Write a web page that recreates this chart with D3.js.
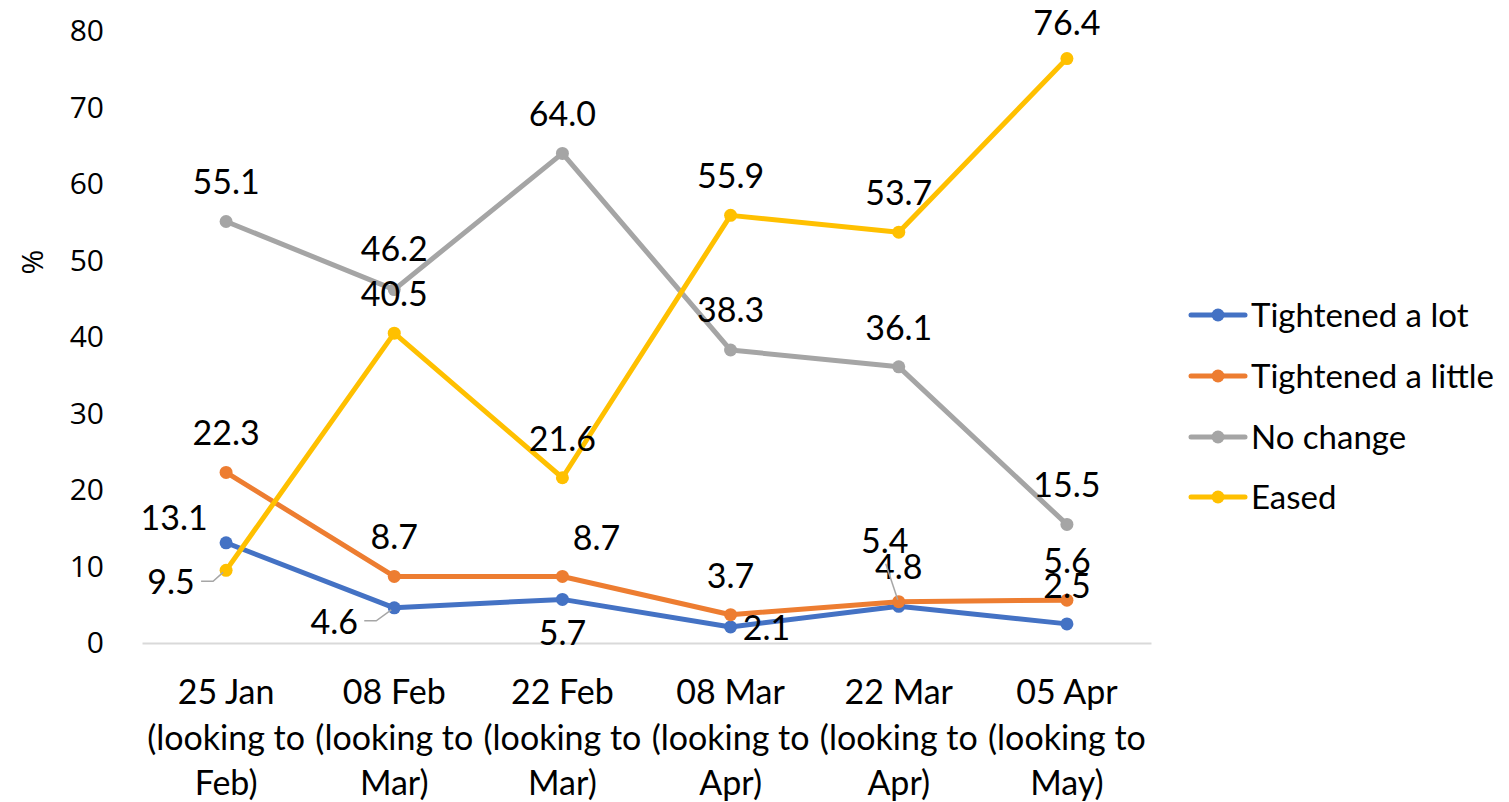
<!DOCTYPE html>
<html>
<head>
<meta charset="utf-8">
<script src="https://cdn.jsdelivr.net/npm/d3@7/dist/d3.min.js"></script>
<style>
  html, body { margin: 0; padding: 0; background: #ffffff; }
  svg { display: block; }
</style>
</head>
<body>
<svg id="chart" width="1509" height="802"></svg>
<script>
// Survey dates (each one looking ahead to the following month)
const dates = ["25 Jan", "08 Feb", "22 Feb", "08 Mar", "22 Mar", "05 Apr"];
const horizons = ["Feb)", "Mar)", "Mar)", "Apr)", "Apr)", "May)"];

// Share of respondents (%) per answer
const seriesNames = ["Tightened a lot", "Tightened a little", "No change", "Eased"];
const tightenedALot = [13.1, 4.6, 5.7, 2.1, 4.8, 2.5];
const tightenedALittle = [22.3, 8.7, 8.7, 3.7, 5.4, 5.6];
const noChange = [55.1, 46.2, 64.0, 38.3, 36.1, 15.5];
const eased = [9.5, 40.5, 21.6, 55.9, 53.7, 76.4];

const yTicks = [0, 10, 20, 30, 40, 50, 60, 70, 80];

const colors = ["#4472C4", "#ED7D31", "#A5A5A5", "#FFC000"];

// Label offsets from each point (dx, dy to label centre); leader = draw a connector
const labelLayout = [
  [{dx: -52, dy: -25}, {dx: -60, dy: 14, leader: true}, {dx: 0, dy: 34}, {dx: 36, dy: 1}, {dx: 0, dy: -39}, {dx: 0, dy: -38}],
  [{dx: 0, dy: -39}, {dx: 0, dy: -39}, {dx: 34, dy: -38}, {dx: 0, dy: -39}, {dx: -14, dy: -61, leader: true}, {dx: 0, dy: -39}],
  [{dx: 0, dy: -39}, {dx: 0, dy: -41}, {dx: 0, dy: -39}, {dx: 0, dy: -40}, {dx: 0, dy: -39}, {dx: 0, dy: -39}],
  [{dx: -55, dy: 12, leader: true}, {dx: 0, dy: -39}, {dx: 0, dy: -39}, {dx: 0, dy: -39}, {dx: 0, dy: -39}, {dx: 0, dy: -36}]
];

const allSeries = [tightenedALot, tightenedALittle, noChange, eased].map((vals, i) => ({
  name: seriesNames[i],
  color: colors[i],
  values: vals.map((v, j) => ({date: dates[j], value: v, layout: labelLayout[i][j]}))
}));

const svg = d3.select("#chart");
const labelFont = "Lato, 'Open Sans', sans-serif";
const axisFont = "'Open Sans', 'Noto Sans', sans-serif";

const plot = {left: 142, right: 1151, top: 31, bottom: 643};

const x = d3.scaleBand().domain(dates).range([plot.left, plot.right]).padding(0);
const cx = d => x(d) + x.bandwidth() / 2;
const y = d3.scaleLinear().domain([0, 80]).range([plot.bottom, plot.top]);

// Y axis labels only (no axis line, no gridlines)
const yAxis = svg.append("g")
  .attr("transform", `translate(${plot.left},0)`)
  .call(d3.axisLeft(y).tickValues(yTicks).tickSize(0).tickPadding(38).tickFormat(d3.format("d")));
yAxis.select(".domain").remove();
yAxis.selectAll("text")
  .attr("font-family", axisFont)
  .attr("font-size", 30)
  .attr("fill", "#000");

svg.append("text")
  .attr("transform", "translate(43,262) rotate(-90)")
  .attr("text-anchor", "middle")
  .attr("font-family", axisFont)
  .attr("font-size", 30)
  .attr("fill", "#000")
  .text("%");

// Category axis
const xAxis = svg.append("g")
  .attr("transform", `translate(0,${plot.bottom})`)
  .call(d3.axisBottom(x).tickSize(0).tickPadding(0));
xAxis.select(".domain").attr("stroke", "#d9d9d9").attr("stroke-width", 2);
xAxis.selectAll(".tick text").each(function(d, i) {
  const t = d3.select(this);
  t.text(null)
    .attr("font-family", labelFont)
    .attr("font-size", 34)
    .attr("fill", "#000")
    .attr("text-anchor", "middle")
    .attr("dy", null)
    .attr("y", 61);
  t.append("tspan").attr("x", 0).attr("y", 61).text(d);
  t.append("tspan").attr("x", 0).attr("y", 107).text("(looking to");
  t.append("tspan").attr("x", 0).attr("y", 152).text(horizons[i]);
});

// Lines and markers
const line = d3.line().x(d => cx(d.date)).y(d => y(d.value));

const seriesG = svg.selectAll("g.series")
  .data(allSeries)
  .enter().append("g")
  .attr("class", "series");

seriesG.append("path")
  .attr("d", s => line(s.values))
  .attr("fill", "none")
  .attr("stroke", s => s.color)
  .attr("stroke-width", 5)
  .attr("stroke-linejoin", "round")
  .attr("stroke-linecap", "round");

seriesG.selectAll("circle")
  .data(s => s.values.map(v => ({...v, color: s.color})))
  .enter().append("circle")
  .attr("cx", d => cx(d.date))
  .attr("cy", d => y(d.value))
  .attr("r", 6.5)
  .attr("fill", d => d.color);

// Data labels with leader lines where a label sits away from its point
const labels = svg.append("g");
allSeries.forEach(s => {
  s.values.forEach(d => {
    const px = cx(d.date), py = y(d.value);
    const lx = px + d.layout.dx, ly = py + d.layout.dy;
    labels.append("text")
      .attr("x", lx)
      .attr("y", ly + 12)
      .attr("text-anchor", "middle")
      .attr("font-family", labelFont)
      .attr("font-size", 34)
      .attr("fill", "#000")
      .text(d3.format(".1f")(d.value));
    if (d.layout.leader) {
      let pts;
      if (d.layout.dy > 0) {
        // label left/below: short horizontal stub then diagonal to the point
        const sx = lx + 30;
        const sy = ly - 1;
        pts = [[sx, sy], [sx + 12, sy], [px - 3, py + 2]];
      } else {
        // label above: connector from label bottom to the point
        pts = [[lx + 1, ly + 23], [px - 1, py - 2]];
      }
      labels.append("path")
        .attr("d", d3.line()(pts))
        .attr("fill", "none")
        .attr("stroke", "#a6a6a6")
        .attr("stroke-width", 1.5);
    }
  });
});

// Legend
const legend = svg.append("g");
const legendRows = [315, 376, 437, 497];
allSeries.forEach((s, i) => {
  const g = legend.append("g").attr("transform", `translate(0,${legendRows[i]})`);
  g.append("line")
    .attr("x1", 1191).attr("x2", 1245)
    .attr("y1", 0).attr("y2", 0)
    .attr("stroke", s.color)
    .attr("stroke-width", 5)
    .attr("stroke-linecap", "round");
  g.append("circle").attr("cx", 1218).attr("cy", 0).attr("r", 6.5).attr("fill", s.color);
  g.append("text")
    .attr("x", 1251)
    .attr("y", 12)
    .attr("font-family", labelFont)
    .attr("font-size", 33)
    .attr("fill", "#000")
    .text(s.name);
});
</script>
</body>
</html>
